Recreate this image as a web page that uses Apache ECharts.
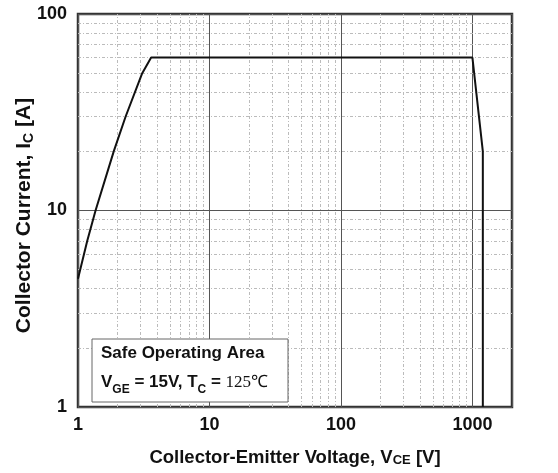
<!DOCTYPE html>
<html>
<head>
<meta charset="utf-8">
<script src="https://cdn.jsdelivr.net/npm/echarts@6/dist/echarts.min.js"></script>
<style>
    html, body { margin: 0; padding: 0; background: #fff; }
    #chart { width: 558px; height: 473px; }
</style>
</head>
<body>
<div id="chart"></div>
<script>
// SOA boundary
const vce = [1, 1.175, 1.36, 1.87, 2.3, 3.08, 3.6, 1000, 1200, 1200];
const ic = [4.5, 7, 10, 20, 30, 50, 60, 60, 20, 1];

// labelled decades
const xTicks = [1, 10, 100, 1000];
const yTicks = [1, 10, 100];

// minor (dotted) grid lines
const xMinor = [2, 3, 4, 5, 6, 7, 8, 9, 20, 30, 40, 50, 60, 70, 80, 90, 200, 300, 400, 500, 600, 700, 800, 900];
const yMinor = [2, 3, 4, 5, 6, 7, 8, 9, 20, 30, 40, 50, 60, 70, 80, 90];

(function () {
    let chart = echarts.init(document.querySelector("#chart"));
    const font = "'Liberation Sans', Arial, sans-serif";

    let minorLines = [];
    xMinor.forEach(v => minorLines.push({ xAxis: v }));
    yMinor.forEach(v => minorLines.push({ yAxis: v }));

    let option = {
        animation: false,
        grid: {
            left: 78,
            right: 46,
            top: 14,
            bottom: 66,
            containLabel: false,
            outerBoundsMode: "none",
            show: true,
            borderColor: "#333",
            borderWidth: 2.5,
            backgroundColor: "#fff"
        },
        xAxis: {
            type: "log",
            logBase: 10,
            min: 1,
            max: 2000,
            splitNumber: 3,
            axisLine: { show: false },
            axisTick: { show: false },
            axisLabel: {
                margin: 9,
                fontFamily: font,
                fontWeight: "bold",
                fontSize: 18,
                color: "#111",
                showMaxLabel: false,
                formatter: v => xTicks.includes(v) ? String(v) : ""
            },
            splitLine: { show: true, lineStyle: { color: "#555", width: 1 } },
            name: "Collector-Emitter Voltage, V{s|CE} [V]",
            nameLocation: "middle",
            nameMoveOverlap: false,
            nameGap: 41,
            nameTextStyle: {
                fontFamily: font,
                fontWeight: "bold",
                fontSize: 18.5,
                color: "#111",
                rich: {
                    s: { fontFamily: font, fontWeight: "bold", fontSize: 13, color: "#111", lineHeight: 13, padding: [6, 0, 0, 0], verticalAlign: "top" }
                }
            }
        },
        yAxis: {
            type: "log",
            logBase: 10,
            min: 1,
            max: 100,
            splitNumber: 2,
            axisLine: { show: false },
            axisTick: { show: false },
            axisLabel: {
                margin: 11,
                fontFamily: font,
                fontWeight: "bold",
                fontSize: 18,
                color: "#111",
                formatter: v => yTicks.includes(v) ? String(v) : ""
            },
            splitLine: { show: true, lineStyle: { color: "#555", width: 1 } },
            name: "Collector Current, I{s|C} [A]",
            nameLocation: "middle",
            nameMoveOverlap: false,
            nameGap: 43,
            nameTextStyle: {
                fontFamily: font,
                fontWeight: "bold",
                fontSize: 21,
                color: "#111",
                padding: [0, 10, 0, 0],
                rich: {
                    s: { fontFamily: font, fontWeight: "bold", fontSize: 14, color: "#111", lineHeight: 12, padding: [8, 0, 0, 0], verticalAlign: "top" }
                }
            }
        },
        series: [
            {
                name: "minor grid",
                type: "line",
                data: [],
                z: 1,
                markLine: {
                    silent: true,
                    symbol: ["none", "none"],
                    label: { show: false },
                    lineStyle: { color: "#bbb", width: 1, type: [3, 2, 1, 2] },
                    data: minorLines
                }
            },
            {
                name: "SOA",
                type: "line",
                data: vce.map((x, i) => [x, ic[i]]),
                symbol: "none",
                z: 5,
                lineStyle: { color: "#111", width: 2 }
            }
        ],
        graphic: [
            {
                type: "rect",
                z: 100,
                shape: { x: 92, y: 339, width: 196, height: 63 },
                style: { fill: "#fff", stroke: "#666", lineWidth: 1 }
            },
            {
                type: "text",
                z: 101,
                left: 101,
                top: 345,
                style: {
                    text: "Safe Operating Area",
                    font: "bold 17px " + font,
                    fill: "#111"
                }
            },
            {
                type: "text",
                z: 101,
                left: 101,
                top: 374,
                style: {
                    text: "{n|V}{s|GE}{n| = 15V, T}{s|C}{n| = }{t|125\u2103}",
                    rich: {
                        n: { fontFamily: font, fontWeight: "bold", fontSize: 17, fill: "#111", lineHeight: 18, verticalAlign: "top" },
                        s: { fontFamily: font, fontWeight: "bold", fontSize: 12, fill: "#111", lineHeight: 12, padding: [10, 0, 0, 0], verticalAlign: "top" },
                        t: { fontFamily: "'Liberation Serif', serif", fontSize: 17, fill: "#111", lineHeight: 18, verticalAlign: "top" }
                    }
                }
            }
        ]
    };

    chart.setOption(option);
    window.addEventListener('resize', () => chart.resize());
})();
</script>
</body>
</html>
